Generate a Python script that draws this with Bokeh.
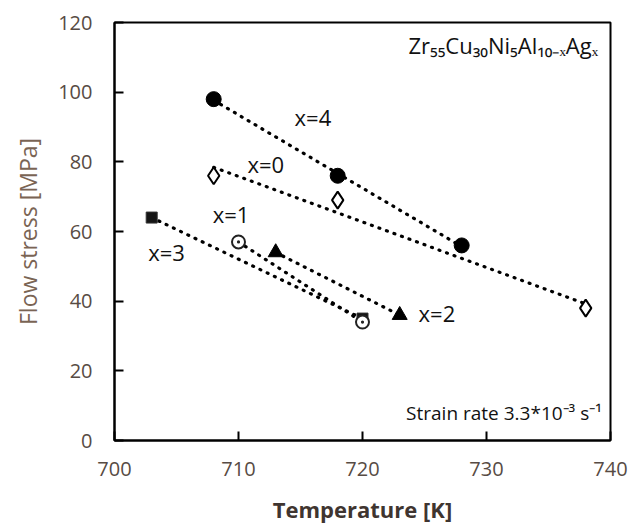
import numpy as np
from bokeh.plotting import figure
from bokeh.models import Label, FixedTicker, Range1d
from bokeh.embed import file_html
from bokeh.resources import INLINE

# ---- data ----
temp_x0 = [708, 718, 738]
stress_x0 = [76, 69, 38]
temp_x1 = [710, 720]
stress_x1 = [57, 34]
temp_x2 = [713, 723]
stress_x2 = [54, 36]
temp_x3 = [703, 720]
stress_x3 = [64, 35]
temp_x4 = [708, 718, 728]
stress_x4 = [98, 76, 56]

x_ticks = [700, 710, 720, 730, 740]
y_ticks = [0, 20, 40, 60, 80, 100, 120]
series_labels = ["x=0", "x=1", "x=2", "x=3", "x=4"]
alloy_text = "Zr\u2085\u2085Cu\u2083\u2080Ni\u2085Al\u2081\u2080\u208B\u2093Ag\u2093"
rate_text = "Strain rate 3.3*10\u207B\u00B3 s\u207B\u00B9"

FONT = "Open Sans"
TICK_COLOR = "#574b44"

p = figure(width=634, height=528, output_backend="svg", toolbar_location=None,
           x_range=Range1d(700, 740), y_range=Range1d(0, 120),
           min_border_left=114, min_border_right=24, min_border_top=22,
           min_border_bottom=88)
p.grid.visible = False
p.background_fill_color = "white"
p.border_fill_color = "white"
p.outline_line_color = "black"
p.outline_line_width = 2

for ax in (p.xaxis[0], p.yaxis[0]):
    ax.axis_line_color = "black"
    ax.axis_line_width = 2
    ax.major_tick_line_color = "black"
    ax.major_tick_line_width = 2
    ax.major_tick_in = 9
    ax.major_tick_out = 0
    ax.minor_tick_line_color = None
    ax.major_label_text_font = FONT
    ax.major_label_text_font_size = "20px"
    ax.major_label_text_color = TICK_COLOR
    ax.axis_label_text_font = FONT

p.xaxis[0].ticker = FixedTicker(ticks=x_ticks)
p.yaxis[0].ticker = FixedTicker(ticks=y_ticks)
p.xaxis[0].major_label_standoff = 21
p.yaxis[0].major_label_standoff = 22

p.xaxis[0].axis_label = "Temperature [K]"
p.xaxis[0].axis_label_text_font_style = "bold"
p.xaxis[0].axis_label_text_font_size = "22px"
p.xaxis[0].axis_label_text_color = "#3f3530"
p.xaxis[0].axis_label_standoff = 15

p.yaxis[0].axis_label = "Flow stress [MPa]"
p.yaxis[0].axis_label_text_font_style = "normal"
p.yaxis[0].axis_label_text_font_size = "23px"
p.yaxis[0].axis_label_text_color = "#7a6454"
p.yaxis[0].axis_label_standoff = 11

series = [
    (temp_x0, stress_x0),
    (temp_x1, stress_x1),
    (temp_x2, stress_x2),
    (temp_x3, stress_x3),
    (temp_x4, stress_x4),
]

# linear trend lines (dotted), computed from each series
for t, s in series:
    k, b = np.polyfit(t, s, 1)
    xs = [min(t), max(t)]
    ys = [k * xs[0] + b, k * xs[1] + b]
    p.line(xs, ys, line_color="black", line_width=3.2, line_dash="1 7",
           line_cap="round")

# markers
p.scatter(temp_x0, stress_x0, marker="diamond", size=17, fill_color="white",
          line_color="black", line_width=2)
p.scatter(temp_x3, stress_x3, marker="square", size=11, fill_color="#151515",
          line_color="#333333", line_width=1)
p.scatter(temp_x1, stress_x1, marker="circle_dot", size=13, fill_color="white",
          line_color="#222222", line_width=2)
p.scatter(temp_x2, stress_x2, marker="triangle", size=15, fill_color="black",
          line_color="black")
p.scatter(temp_x4, stress_x4, marker="circle", size=15, fill_color="black",
          line_color="black")

# series annotations
ann_pos = {"x=0": (712.2, 79.5), "x=1": (709.4, 64.9), "x=2": (726.0, 36.7),
           "x=3": (704.2, 54.0), "x=4": (716.0, 93.0)}
for lab in series_labels:
    x, y = ann_pos[lab]
    p.add_layout(Label(x=x, y=y, text=lab, text_font=FONT, text_font_size="22px",
                       text_color="#111111", text_align="center",
                       text_baseline="middle"))

p.add_layout(Label(x=739.0, y=113.4, text=alloy_text, text_font=FONT,
                   text_font_size="22px", text_color="#111111",
                   text_align="right", text_baseline="middle"))
p.add_layout(Label(x=739.3, y=8.0, text=rate_text, text_font=FONT,
                   text_font_size="19px", text_color="#111111",
                   text_align="right", text_baseline="middle"))

open("out.html", "w").write(file_html(p, INLINE))
